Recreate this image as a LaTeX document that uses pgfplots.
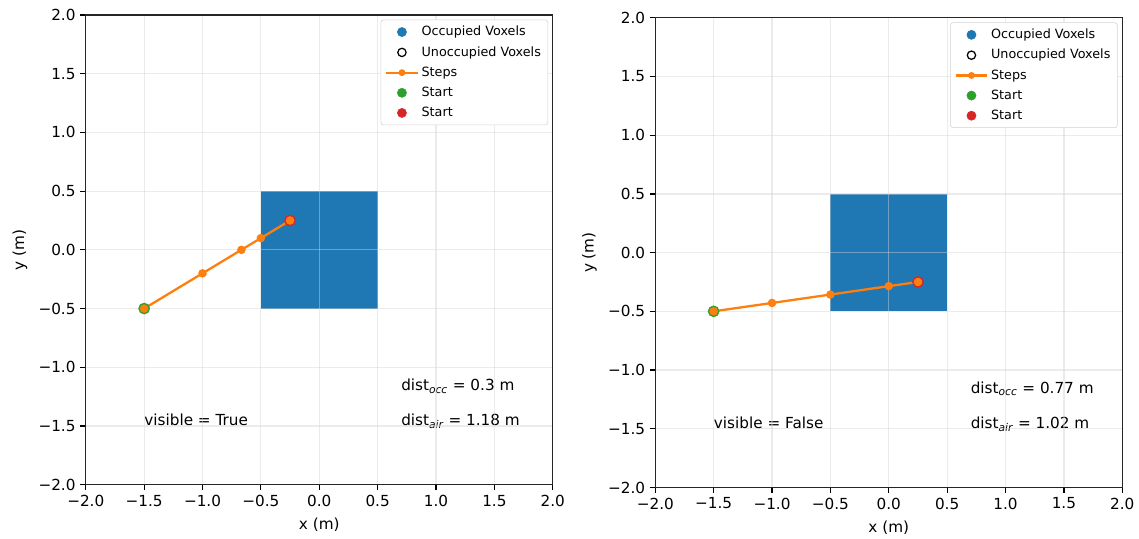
\documentclass[border=0pt]{standalone}
\usepackage{pgfplots}
\pgfplotsset{compat=1.18}
\usepackage{fontspec}
\setmainfont{DejaVu Sans}
\definecolor{tabblue}{HTML}{1F77B4}
\definecolor{taborange}{HTML}{FF7F0E}
\definecolor{tabgreen}{HTML}{2CA02C}
\definecolor{tabred}{HTML}{D62728}
\pgfplotsset{
  voxplot/.style={
    scale only axis, width=337pt, height=339pt,
    xmin=-2, xmax=2, ymin=-2, ymax=2,
    xtick={-2,-1.5,...,2}, ytick={-2,-1.5,...,2},
    xticklabels={−2.0,−1.5,−1.0,−0.5,0.0,0.5,1.0,1.5,2.0},
    yticklabels={−2.0,−1.5,−1.0,−0.5,0.0,0.5,1.0,1.5,2.0},
    xtick pos=bottom, ytick pos=left,
    tick label style={font=\fontsize{11}{13}\selectfont},
    xlabel={x (m)}, ylabel={y (m)},
    every axis x label/.style={at={(axis description cs:0.5,-0.085)}, anchor=center, font=\fontsize{11}{13}\selectfont},
    every axis y label/.style={at={(axis description cs:-0.141,0.5)}, anchor=center, rotate=90, font=\fontsize{11}{13}\selectfont},
    grid=major, grid style={gray!35, opacity=0.45, line width=0.88pt},
    axis on top,
    tick align=outside, major tick length=3.85pt,
    axis line style={black!85, line width=0.88pt},
    every tick/.style={black, line width=0.88pt},
    legend cell align=left,
    legend style={at={(0.99,0.99)}, anchor=north east, font=\fontsize{9.2}{10.5}\selectfont,
      draw=gray!35, rounded corners=2pt, row sep=2.2pt, inner xsep=3pt, inner ysep=2.5pt},
  },
  dotimg/.style={only marks, mark=*, mark size=3.3pt,
    legend image code/.code={\draw[##1] plot coordinates {(0.4cm,0cm)};}},
  lineimg/.style={legend image code/.code={\draw[mark repeat=2, mark phase=2, ##1] plot coordinates {(0cm,0cm) (0.4cm,0cm) (0.8cm,0cm)};}},
}
\newcommand{\voxlegend}{%
\addlegendimage{dotimg, tabblue}
\addlegendentry{Occupied Voxels}
\addlegendimage{dotimg, mark=o, black, line width=0.9pt, mark size=3pt}
\addlegendentry{Unoccupied Voxels}
\addlegendimage{lineimg, taborange, line width=1.65pt, mark=*, mark size=1.6pt}
\addlegendentry{Steps}
\addlegendimage{dotimg, tabgreen}
\addlegendentry{Start}
\addlegendimage{dotimg, tabred}
\addlegendentry{Start}
}
\begin{document}
\begin{tikzpicture}
\begin{axis}[voxplot]
\addplot[fill=tabblue, draw=none, forget plot] coordinates {(-0.5,-0.5) (0.5,-0.5) (0.5,0.5) (-0.5,0.5)} -- cycle;
\addplot[only marks, mark=*, mark size=4pt, tabgreen, forget plot] coordinates {(-1.5,-0.5)};
\addplot[only marks, mark=*, mark size=4pt, tabred, forget plot] coordinates {(-0.25,0.25)};
\addplot[taborange, line width=1.65pt, mark=*, mark size=2.2pt, forget plot] coordinates {
  (-1.5,-0.5) (-1.0,-0.2) (-0.667,0.0) (-0.5,0.1) (-0.25,0.25)};
\voxlegend
\node[anchor=base west, font=\fontsize{11}{13}\selectfont, inner sep=0pt] at (axis cs:-1.5,-1.5) {visible = True};
\node[anchor=base west, font=\fontsize{11}{13}\selectfont, inner sep=0pt] at (axis cs:0.7,-1.2) {dist$_{\mathit{occ}}$ = 0.3 m};
\node[anchor=base west, font=\fontsize{11}{13}\selectfont, inner sep=0pt] at (axis cs:0.7,-1.5) {dist$_{\mathit{air}}$ = 1.18 m};
\end{axis}
\begin{axis}[voxplot, at={(411pt,-2pt)}]
\addplot[fill=tabblue, draw=none, forget plot] coordinates {(-0.5,-0.5) (0.5,-0.5) (0.5,0.5) (-0.5,0.5)} -- cycle;
\addplot[only marks, mark=*, mark size=4pt, tabgreen, forget plot] coordinates {(-1.5,-0.5)};
\addplot[only marks, mark=*, mark size=4pt, tabred, forget plot] coordinates {(0.25,-0.25)};
\addplot[taborange, line width=1.65pt, mark=*, mark size=2.2pt, forget plot] coordinates {
  (-1.5,-0.5) (-1.0,-0.4286) (-0.5,-0.3571) (0.0,-0.2857) (0.25,-0.25)};
\voxlegend
\node[anchor=base west, font=\fontsize{11}{13}\selectfont, inner sep=0pt] at (axis cs:-1.5,-1.5) {visible = False};
\node[anchor=base west, font=\fontsize{11}{13}\selectfont, inner sep=0pt] at (axis cs:0.7,-1.2) {dist$_{\mathit{occ}}$ = 0.77 m};
\node[anchor=base west, font=\fontsize{11}{13}\selectfont, inner sep=0pt] at (axis cs:0.7,-1.5) {dist$_{\mathit{air}}$ = 1.02 m};
\end{axis}
\path[use as bounding box] (-61.9pt,-35.3pt) rectangle (758.2pt,349.8pt);
\end{tikzpicture}
\end{document}
